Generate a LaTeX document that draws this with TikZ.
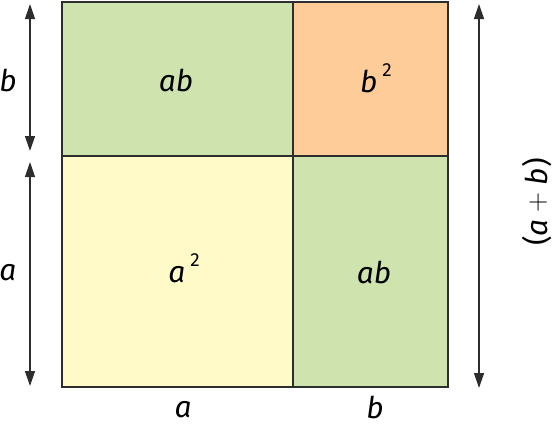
\documentclass[tikz,border=0pt]{standalone}
\usepackage{fontspec}
\usepackage{graphicx}
\setmainfont{Fira Sans}
\usetikzlibrary{arrows.meta}
\definecolor{cellgreen}{RGB}{206,227,173}
\definecolor{cellorange}{RGB}{254,204,153}
\definecolor{cellyellow}{RGB}{255,250,199}
\definecolor{edgegray}{RGB}{45,45,45}
\tikzset{
  cell/.style={draw=edgegray, line width=1.6bp, inner sep=0pt, outer sep=0pt,
    font=\fontsize{30}{30}\selectfont\itshape},
  dimarrow/.style={draw=edgegray, line width=1.3bp,
    {Triangle[length=15bp,width=10bp]}-{Triangle[length=15bp,width=10bp]}},
  dimlabel/.style={inner sep=0pt, font=\fontsize{30}{30}\selectfont\itshape},
}
\newcommand{\supr}[1]{\,\raisebox{0.55em}{\upshape\fontsize{19}{19}\selectfont #1}}
\newcommand{\bigplus}{\raisebox{0.08em}{\resizebox{20bp}{!}{$+$}}}
\begin{document}
\begin{tikzpicture}[x=1bp,y=-1bp]
\useasboundingbox (0,0) rectangle (555,426);
% cells
\node[cell, fill=cellgreen, minimum width=231bp, minimum height=154bp] (abtop) at (177.5,79) {};
\node[cell, fill=cellorange, minimum width=155bp, minimum height=154bp] (bsq) at (370.5,79) {};
\node[cell, fill=cellyellow, minimum width=231bp, minimum height=231bp] (asq) at (177.5,271.5) {};
\node[cell, fill=cellgreen, minimum width=155bp, minimum height=231bp] (abbot) at (370.5,271.5) {};
% cell texts
\node[dimlabel] (tabtop) at (176,80) {ab};
\node[dimlabel] (tbsq) at (376,78) {b\supr{2}};
\node[dimlabel] (tasq) at (184,268) {a\supr{2}};
\node[dimlabel] (tabbot) at (374,272) {ab};
% dimension arrows
\coordinate (lb1) at (30,4);
\coordinate (lb2) at (30,151);
\coordinate (la1) at (30,162);
\coordinate (la2) at (30,386);
\coordinate (r1) at (479,4);
\coordinate (r2) at (479,388);
\draw[dimarrow] (lb1) -- (lb2);
\draw[dimarrow] (la1) -- (la2);
\draw[dimarrow] (r1) -- (r2);
% dimension labels
\node[dimlabel] (lblb) at (8,80) {b};
\node[dimlabel] (lbla) at (8,273) {a};
\node[dimlabel] (lbba) at (183,410) {a};
\node[dimlabel] (lbbb) at (375,407) {b};
\node[dimlabel, rotate=90] (lblab) at (537,202) {\upshape(\itshape a\hspace{7bp}\bigplus\hspace{7bp}b\upshape)};
\end{tikzpicture}
\end{document}
